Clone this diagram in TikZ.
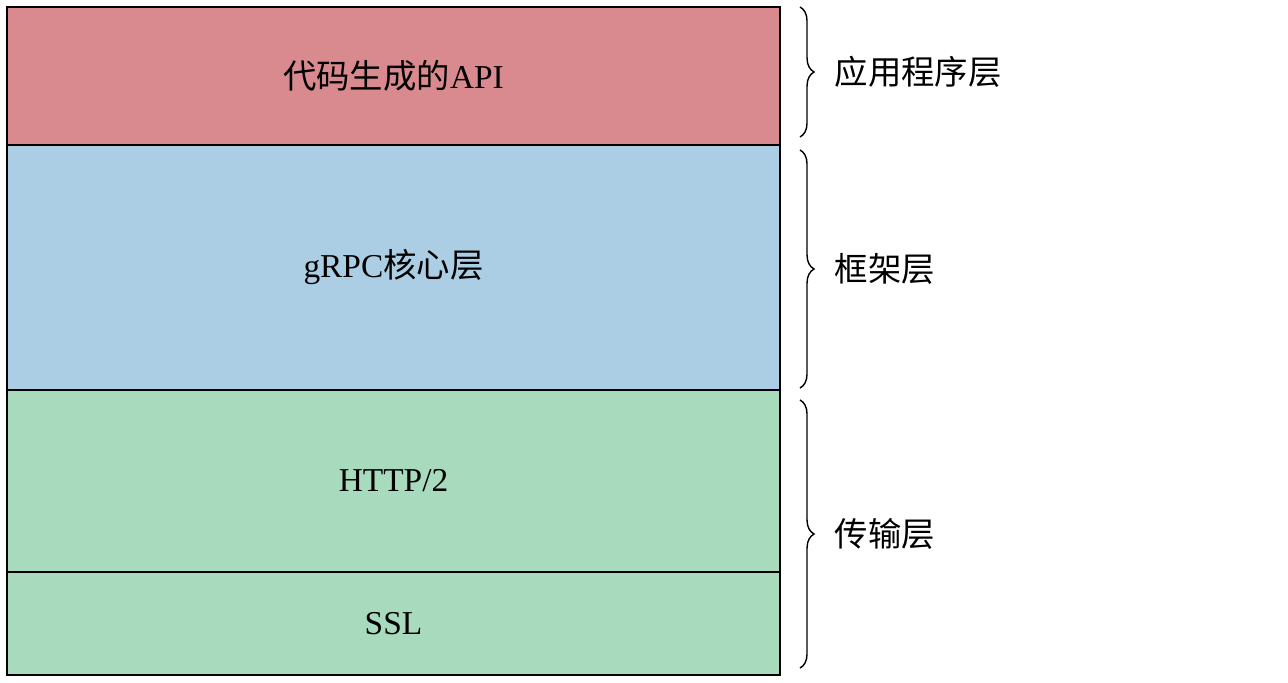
\documentclass[tikz,border=0pt]{standalone}
\usepackage{fontspec}
\setmainfont{Liberation Serif}
\newfontfamily\cjk{Noto Sans CJK SC}
\usetikzlibrary{positioning,decorations.pathreplacing}
\definecolor{appred}{RGB}{216,138,142}
\definecolor{coreblue}{RGB}{172,206,228}
\definecolor{netgreen}{RGB}{168,218,190}
\tikzset{
  layer/.style={draw, thick, minimum width=15.46cm, outer sep=0pt, inner sep=0pt,
    font=\fontsize{19}{22}\selectfont},
  tag/.style={right, font=\fontsize{19}{22}\selectfont\cjk},
  brc/.style={decorate, decoration={brace, amplitude=8pt}, thick}
}
\begin{document}
\begin{tikzpicture}
  \useasboundingbox (0,0) rectangle (25.76,-13.66);
  \node (api) [layer, fill=appred, minimum height=2.76cm, anchor=north west] at (0.14,-0.14) {{\cjk 代码生成的}API};
  \node (core) [layer, fill=coreblue, minimum height=4.9cm, below=0pt of api] {gRPC{\cjk 核心层}};
  \node (http) [layer, fill=netgreen, minimum height=3.64cm, below=0pt of core] {HTTP/2};
  \node (ssl) [layer, fill=netgreen, minimum height=2.06cm, below=0pt of http] {SSL};
  \coordinate (b1t) at (16.0,-0.14);
  \coordinate (b1b) at (16.0,-2.74);
  \coordinate (b2t) at (16.0,-3.0);
  \coordinate (b2b) at (16.0,-7.76);
  \coordinate (b3t) at (16.0,-8.0);
  \coordinate (b3b) at (16.0,-13.36);
  \draw[brc] (b1t) -- node[tag, xshift=16pt] {应用程序层} (b1b);
  \draw[brc] (b2t) -- node[tag, xshift=16pt] {框架层} (b2b);
  \draw[brc] (b3t) -- node[tag, xshift=16pt] {传输层} (b3b);
\end{tikzpicture}
\end{document}
